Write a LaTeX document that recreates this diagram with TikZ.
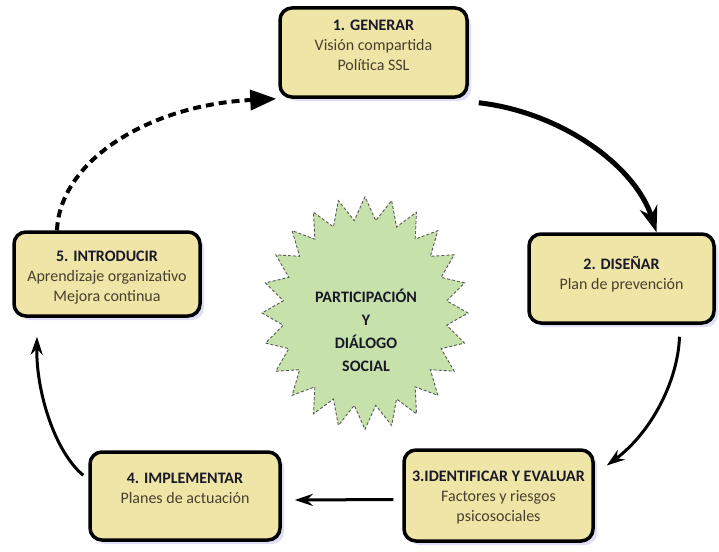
\documentclass[tikz,border=0pt]{standalone}
\usepackage{fontspec}
\setmainfont{Carlito}
\usetikzlibrary{shapes.geometric,shadows,arrows.meta}

\definecolor{colorcaja}{RGB}{239,229,167}
\definecolor{colorsombra}{RGB}{222,222,246}
\definecolor{colorestrella}{RGB}{198,225,170}
\definecolor{colortitulo}{RGB}{25,25,40}
\definecolor{colortexto}{RGB}{72,64,46}

\begin{document}
\begin{tikzpicture}[x=1pt,y=-1pt,
    caja/.style={draw=black,line width=3.5pt,rounded corners=12pt,fill=colorcaja,
      drop shadow={shadow xshift=4pt,shadow yshift=-4pt,fill=colorsombra,opacity=1}},
    texto/.style={anchor=north,align=center,text=colortexto,
      font=\fontsize{16}{20}\selectfont},
    flecha/.style={line width=3pt,-{Stealth[length=18pt,width=12pt]}}]
    \useasboundingbox (0,0) rectangle (719,551);

    % Cajas del ciclo
    \node[caja,minimum width=187pt,minimum height=89pt] (generar) at (373.5,52.5) {};
    \node[caja,minimum width=185pt,minimum height=89pt] (disenar) at (621.5,278.5) {};
    \node[caja,minimum width=189pt,minimum height=91pt] (identificar) at (498.5,495.5) {};
    \node[caja,minimum width=190pt,minimum height=88pt] (implementar) at (185,496) {};
    \node[caja,minimum width=186pt,minimum height=84pt] (introducir) at (107,274) {};

    % Textos de las cajas
    \node[texto] (tgenerar) at ([yshift=-10.5pt]generar.north)
        {\textbf{\color{colortitulo}1. GENERAR}\\Visión compartida\\Política SSL};
    \node[texto] (tdisenar) at ([yshift=-20.5pt]disenar.north)
        {\textbf{\color{colortitulo}2. DISEÑAR}\\Plan de prevención};
    \node[texto] (tidentificar) at ([yshift=-19.5pt]identificar.north)
        {\textbf{\color{colortitulo}3.IDENTIFICAR Y EVALUAR}\\Factores y riesgos\\psicosociales};
    \node[texto] (timplementar) at ([yshift=-19.5pt]implementar.north)
        {\textbf{\color{colortitulo}4. IMPLEMENTAR}\\Planes de actuación};
    \node[texto] (tintroducir) at ([yshift=-17.5pt]introducir.north)
        {\textbf{\color{colortitulo}5. INTRODUCIR}\\Aprendizaje organizativo\\Mejora continua};

    % Estrella central
    \node[star,star points=24,star point ratio=1.25,minimum size=206pt,
        yscale=1.13,transform shape,fill=colorestrella,draw=black!65,
        line width=0.9pt,densely dashed] (dialogo) at (365,313) {};
    \node[align=center,text=colortitulo,font=\bfseries\fontsize{16}{23}\selectfont]
        (tdialogo) at (366,330) {PARTICIPACIÓN\\Y\\DIÁLOGO\\SOCIAL};

    % Flechas
    \draw[line width=5pt,-{Stealth[length=26pt,width=18pt]}]
        ([shift={(10pt,-4pt)}]generar.south east) .. controls (560,112) and (635,165)
        .. ([xshift=35pt]disenar.north);
    \draw[flecha] ([shift={(58pt,-12pt)}]disenar.south) .. controls (678,380) and (652,432)
        .. ([shift={(12pt,30pt)}]identificar.east);
    \draw[flecha] ([shift={(-9pt,-4pt)}]identificar.west) -- ([shift={(13pt,-4pt)}]implementar.east);
    \draw[flecha] ([shift={(-5pt,-25pt)}]implementar.north west) .. controls (55,452) and (36,392)
        .. ([shift={(-70pt,-19pt)}]introducir.south);
    \draw[line width=4pt,dash pattern=on 8pt off 5pt,-{Triangle[length=26pt,width=20pt]}]
        ([xshift=-50pt]introducir.north) .. controls (60,160) and (150,105)
        .. ([xshift=-2pt]generar.south west);
\end{tikzpicture}
\end{document}
